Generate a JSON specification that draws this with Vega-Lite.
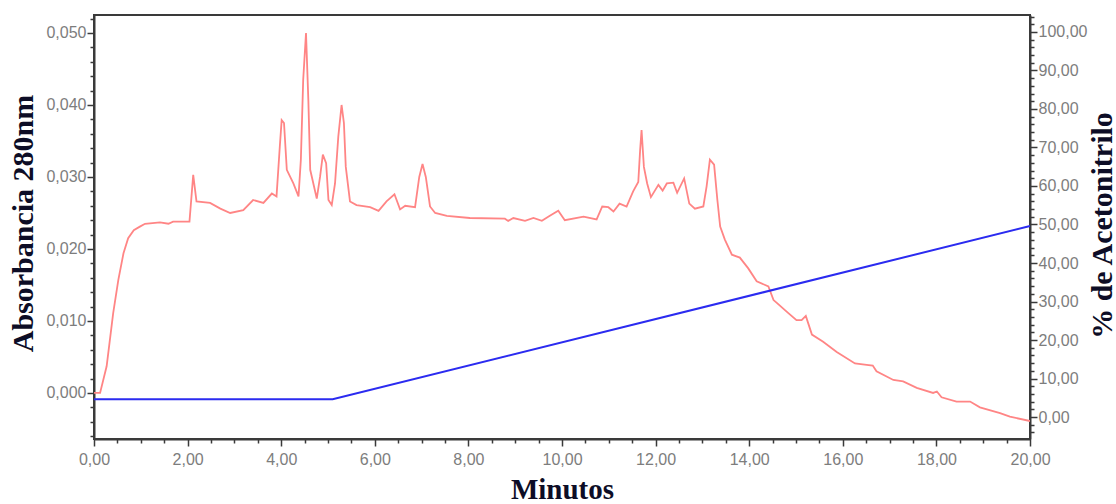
{
  "$schema": "https://vega.github.io/schema/vega-lite/v6.json",
  "width": 936,
  "height": 424,
  "autosize": {"type": "none"},
  "padding": {"left": 94, "top": 15, "right": 86, "bottom": 65},
  "background": "white",
  "config": {
    "view": {"stroke": "#3a3a3a", "strokeWidth": 2},
    "axis": {
      "grid": false,
      "domainColor": "#3a3a3a",
      "domainWidth": 2,
      "tickColor": "#3a3a3a",
      "tickWidth": 1.5,
      "labelFont": "Liberation Sans",
      "labelFontSize": 16,
      "labelColor": "#7d7d7d",
      "titleFont": "Liberation Serif",
      "titleFontWeight": "bold",
      "titleFontSize": 30,
      "titleColor": "#0d0d26",
      "labelOverlap": false,
      "labelFlush": false
    }
  },
  "datasets": {
    "abs": [
      {"t": 0, "a": 0.0},
      {"t": 0.13, "a": 0.0},
      {"t": 0.27, "a": 0.0037},
      {"t": 0.41, "a": 0.0111},
      {"t": 0.52, "a": 0.0157},
      {"t": 0.63, "a": 0.0194},
      {"t": 0.73, "a": 0.0215},
      {"t": 0.85, "a": 0.0226},
      {"t": 0.98, "a": 0.0231},
      {"t": 1.09, "a": 0.0235},
      {"t": 1.41, "a": 0.0237},
      {"t": 1.59, "a": 0.0235},
      {"t": 1.69, "a": 0.0238},
      {"t": 2.04, "a": 0.0238},
      {"t": 2.12, "a": 0.0303},
      {"t": 2.19, "a": 0.0266},
      {"t": 2.48, "a": 0.0264},
      {"t": 2.7, "a": 0.0256},
      {"t": 2.91, "a": 0.025},
      {"t": 3.19, "a": 0.0254},
      {"t": 3.4, "a": 0.0268},
      {"t": 3.62, "a": 0.0264},
      {"t": 3.8, "a": 0.0277},
      {"t": 3.9, "a": 0.0273},
      {"t": 3.97, "a": 0.0342},
      {"t": 4.01, "a": 0.0379},
      {"t": 4.06, "a": 0.0375},
      {"t": 4.12, "a": 0.031},
      {"t": 4.26, "a": 0.0291},
      {"t": 4.37, "a": 0.0273},
      {"t": 4.42, "a": 0.0324},
      {"t": 4.47, "a": 0.0435},
      {"t": 4.53, "a": 0.05},
      {"t": 4.58, "a": 0.0407},
      {"t": 4.62, "a": 0.031},
      {"t": 4.76, "a": 0.027},
      {"t": 4.83, "a": 0.03},
      {"t": 4.89, "a": 0.0331},
      {"t": 4.96, "a": 0.0319},
      {"t": 5.01, "a": 0.0268},
      {"t": 5.08, "a": 0.0261},
      {"t": 5.15, "a": 0.0291},
      {"t": 5.22, "a": 0.0356},
      {"t": 5.29, "a": 0.04},
      {"t": 5.34, "a": 0.0375},
      {"t": 5.38, "a": 0.0314},
      {"t": 5.47, "a": 0.0266},
      {"t": 5.61, "a": 0.0261},
      {"t": 5.9, "a": 0.0258},
      {"t": 6.08, "a": 0.0253},
      {"t": 6.25, "a": 0.0266},
      {"t": 6.42, "a": 0.0276},
      {"t": 6.54, "a": 0.0255},
      {"t": 6.65, "a": 0.026},
      {"t": 6.86, "a": 0.0258},
      {"t": 6.95, "a": 0.03},
      {"t": 7.02, "a": 0.0318},
      {"t": 7.09, "a": 0.03},
      {"t": 7.18, "a": 0.0259},
      {"t": 7.29, "a": 0.025},
      {"t": 7.54, "a": 0.0246},
      {"t": 8.03, "a": 0.0243},
      {"t": 8.78, "a": 0.0242},
      {"t": 8.85, "a": 0.0239},
      {"t": 8.96, "a": 0.0243},
      {"t": 9.21, "a": 0.0239},
      {"t": 9.39, "a": 0.0243},
      {"t": 9.57, "a": 0.0239},
      {"t": 9.74, "a": 0.0246},
      {"t": 9.92, "a": 0.0253},
      {"t": 10.06, "a": 0.024},
      {"t": 10.46, "a": 0.0245},
      {"t": 10.74, "a": 0.0241},
      {"t": 10.86, "a": 0.0259},
      {"t": 10.99, "a": 0.0258},
      {"t": 11.1, "a": 0.0252},
      {"t": 11.23, "a": 0.0263},
      {"t": 11.38, "a": 0.0259},
      {"t": 11.52, "a": 0.028},
      {"t": 11.63, "a": 0.0293},
      {"t": 11.67, "a": 0.0338},
      {"t": 11.7, "a": 0.0365},
      {"t": 11.75, "a": 0.0314},
      {"t": 11.82, "a": 0.0291},
      {"t": 11.9, "a": 0.0272},
      {"t": 12.06, "a": 0.0289},
      {"t": 12.15, "a": 0.0281},
      {"t": 12.24, "a": 0.0291},
      {"t": 12.38, "a": 0.0292},
      {"t": 12.46, "a": 0.0278},
      {"t": 12.61, "a": 0.0298},
      {"t": 12.72, "a": 0.0263},
      {"t": 12.84, "a": 0.0256},
      {"t": 13.02, "a": 0.0259},
      {"t": 13.09, "a": 0.0287},
      {"t": 13.16, "a": 0.0324},
      {"t": 13.25, "a": 0.0317},
      {"t": 13.32, "a": 0.0268},
      {"t": 13.38, "a": 0.0231},
      {"t": 13.48, "a": 0.0213},
      {"t": 13.63, "a": 0.0192},
      {"t": 13.8, "a": 0.0188},
      {"t": 13.98, "a": 0.0173},
      {"t": 14.16, "a": 0.0155},
      {"t": 14.41, "a": 0.0148},
      {"t": 14.52, "a": 0.0129},
      {"t": 14.59, "a": 0.0125},
      {"t": 14.8, "a": 0.0113},
      {"t": 15.01, "a": 0.0101},
      {"t": 15.12, "a": 0.0101},
      {"t": 15.21, "a": 0.0107},
      {"t": 15.26, "a": 0.0097},
      {"t": 15.34, "a": 0.0081},
      {"t": 15.58, "a": 0.0071},
      {"t": 15.87, "a": 0.0057},
      {"t": 16.26, "a": 0.0041},
      {"t": 16.51, "a": 0.0039},
      {"t": 16.64, "a": 0.0038},
      {"t": 16.72, "a": 0.003},
      {"t": 17.08, "a": 0.0018},
      {"t": 17.29, "a": 0.0016},
      {"t": 17.58, "a": 0.0007},
      {"t": 17.93, "a": 0.0},
      {"t": 18.01, "a": 0.0002},
      {"t": 18.11, "a": -0.0006},
      {"t": 18.43, "a": -0.0012},
      {"t": 18.72, "a": -0.0012},
      {"t": 18.93, "a": -0.002},
      {"t": 19.36, "a": -0.0028},
      {"t": 19.57, "a": -0.0033},
      {"t": 20.0, "a": -0.0039}
    ],
    "acn": [
      {"t": 0, "p": 4.6},
      {"t": 5.1, "p": 4.6},
      {"t": 20, "p": 49.6}
    ]
  },
  "encoding": {
    "x": {
      "field": "t",
      "type": "quantitative",
      "scale": {"domain": [0, 20], "nice": false, "zero": false},
      "axis": {
        "title": "Minutos",
        "values": [0,0.5,1,1.5,2,2.5,3,3.5,4,4.5,5,5.5,6,6.5,7,7.5,8,8.5,9,9.5,10,10.5,11,11.5,12,12.5,13,13.5,14,14.5,15,15.5,16,16.5,17,17.5,18,18.5,19,19.5,20],
        "labelExpr": "abs(datum.value/2 - round(datum.value/2)) < 0.001 ? replace(format(datum.value, '.2f'), '.', ',') : ''",
        "tickSize": {"condition": {"test": "abs(datum.value/2 - round(datum.value/2)) < 0.001", "value": 7}, "value": 4},
        "labelPadding": 5,
        "titleFontSize": 29,
        "titleX": 468,
        "titleY": 59,
        "titleAlign": "center",
        "titleBaseline": "alphabetic"
      }
    }
  },
  "layer": [
    {
      "data": {"name": "abs"},
      "mark": {"type": "line", "color": "#ff8585", "strokeWidth": 1.8, "clip": true},
      "encoding": {
        "y": {
          "field": "a",
          "type": "quantitative",
          "scale": {"domain": [-0.0064, 0.0525], "nice": false, "zero": false},
          "axis": {
            "orient": "left",
            "title": "Absorbancia 280nm",
            "values": [-0.006,-0.004,-0.002,0,0.002,0.004,0.006,0.008,0.01,0.012,0.014,0.016,0.018,0.02,0.022,0.024,0.026,0.028,0.03,0.032,0.034,0.036,0.038,0.04,0.042,0.044,0.046,0.048,0.05,0.052],
            "labelExpr": "abs(datum.value*100 - round(datum.value*100)) < 0.001 ? replace(format(datum.value, '.3f'), '.', ',') : ''",
            "tickSize": {"condition": {"test": "abs(datum.value*100 - round(datum.value*100)) < 0.001", "value": 7}, "value": 4},
            "labelPadding": 1,
            "titleAngle": -90,
            "titleX": -71,
            "titleY": 208,
            "titleAlign": "center",
            "titleBaseline": "middle"
          }
        }
      }
    },
    {
      "data": {"name": "acn"},
      "mark": {"type": "line", "color": "#2b2bf0", "strokeWidth": 2},
      "encoding": {
        "y": {
          "field": "p",
          "type": "quantitative",
          "scale": {"domain": [-5.7, 104.4], "nice": false, "zero": false},
          "axis": {
            "orient": "right",
            "title": "% de Acetonitrilo",
            "values": [-4,-2,0,2,4,6,8,10,12,14,16,18,20,22,24,26,28,30,32,34,36,38,40,42,44,46,48,50,52,54,56,58,60,62,64,66,68,70,72,74,76,78,80,82,84,86,88,90,92,94,96,98,100,102,104],
            "labelExpr": "abs(datum.value/10 - round(datum.value/10)) < 0.001 ? replace(format(datum.value, '.2f'), '.', ',') : ''",
            "tickSize": {"condition": {"test": "abs(datum.value/10 - round(datum.value/10)) < 0.001", "value": 7}, "value": 4},
            "labelPadding": 1,
            "titleAngle": -90,
            "titleX": 72,
            "titleY": 210,
            "titleAlign": "center",
            "titleBaseline": "middle"
          }
        }
      }
    }
  ],
  "resolve": {"scale": {"y": "independent"}}
}
